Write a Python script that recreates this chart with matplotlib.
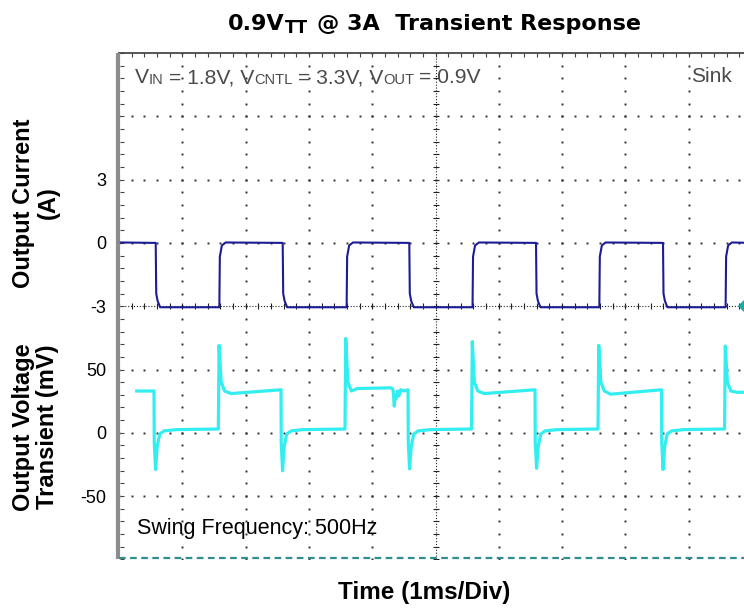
import numpy as np
import matplotlib
matplotlib.use("Agg")
import matplotlib.pyplot as plt

plt.rcParams['font.family'] = ['Liberation Sans', 'DejaVu Sans']
plt.rcParams['axes.unicode_minus'] = False

# ---- data read from the scope shot (time in ms, 1 ms/div) ----
cur_start = (0.03, 0.02)
cur_fall = [0.580, 2.586, 4.586, 6.588, 8.594]
cur_rise = [1.585, 3.596, 5.585, 7.588, 9.583]
cur_high = 0.0
cur_low = -3.05
cur_fall_shape = [(0.0, 0.0), (0.008, -2.4), (0.03, -2.75), (0.07, -3.05)]
cur_rise_shape = [(0.0, -3.05), (0.008, -0.65), (0.04, -0.12), (0.1, 0.02)]

volt_start = (0.28, 33.0)
volt_fall = [0.553, 2.559, 4.566, 6.572, 8.570]
volt_min = [-29, -30, -28.5, -28, -29]
volt_rise = [1.569, 3.570, 5.569, 7.567, 9.566]
volt_peak = [69, 74.5, 72, 69, 68.5]
volt_high = [(31, 34), (35, 34), (31, 34), (30.5, 34), (32, 32)]
volt_low = (2.5, 3.0)
volt_down_shape = [(0.004, -8), (0.025, None), (0.05, -11), (0.09, -1), (0.16, 1.5), (0.35, 2.5)]
volt_up_shape = [(0.012, None), (0.045, 40), (0.1, 33)]
volt_dip = [(4.30, 35.5), (4.33, 34), (4.349, 21), (4.365, 30), (4.38, 27),
            (4.40, 33), (4.42, 29), (4.45, 34), (4.50, 33)]

I_TICKS = [-3, 0, 3]
V_TICKS = [-50, 0, 50]

W, H = 744, 609
LEFT, TOP, DIV = 119, 53, 63.3


def fx(px):
    return px / W


def fy(py):
    return 1 - py / H


fig = plt.figure(figsize=(W / 100, H / 100), dpi=100)
rect = [fx(LEFT), fy(TOP + 8 * DIV), 10 * DIV / W, 8 * DIV / H]

# scope graticule in division units
g = fig.add_axes(rect)
g.set_xlim(0, 10)
g.set_ylim(0, 8)
g.axis('off')
sub = np.arange(0, 10.01, 0.2)
subv = np.arange(0, 8.01, 0.2)
for xv in range(1, 10):
    if xv == 5:
        continue
    g.plot(np.full_like(subv, xv), subv, ls='none', marker='s', ms=1.4, mew=0, color='#303030')
for yv in range(1, 8):
    if yv == 4:
        continue
    g.plot(sub, np.full_like(sub, yv), ls='none', marker='s', ms=1.4, mew=0, color='#303030')
# centre lines with crossbars
g.plot([5, 5], [0, 8], ls=(0, (1, 1.6)), lw=0.8, color='#222222')
g.plot(np.full_like(subv, 5), subv, ls='none', marker='_', ms=4, mew=0.8, color='#222222')
g.plot([0, 10], [4, 4], ls=(0, (1, 1.6)), lw=0.8, color='#222222')
g.plot(sub, np.full_like(sub, 4), ls='none', marker='|', ms=4, mew=0.8, color='#222222')
# frame
g.plot([0, 10], [8, 8], lw=1.4, color='#555555', clip_on=False)
g.plot(sub, np.full_like(sub, 7.97), ls='none', marker='|', ms=3, mew=0.8, color='#444444', clip_on=False)
g.plot([-0.02, -0.02], [0, 8], lw=3, color='#8c8c8c', clip_on=False, solid_capstyle='butt')
g.plot(np.full_like(subv, 0.04), subv, ls='none', marker='_', ms=3, mew=0.8, color='#444444')
g.plot([0, 10], [0.02, 0.02], lw=1.6, color='#2f8f8f', dashes=(3, 2), clip_on=False)
g.plot([9.9], [4], marker='D', ms=8, color='#1aa8a0', mew=0, clip_on=False)

# current trace
ct, ci = [cur_start[0]], [cur_start[1]]
for k in range(len(cur_fall)):
    for dt, a in cur_fall_shape:
        ct.append(cur_fall[k] + dt)
        ci.append(a)
    ct.append(cur_rise[k])
    ci.append(cur_low)
    for dt, a in cur_rise_shape:
        ct.append(cur_rise[k] + dt)
        ci.append(a)
    ct.append(cur_fall[k + 1] if k + 1 < len(cur_fall) else 10.0)
    ci.append(cur_high)

# voltage trace
vt, vv = [volt_start[0]], [volt_start[1]]
hi_end = volt_start[1]
for k in range(len(volt_fall)):
    vt.append(volt_fall[k])
    vv.append(hi_end)
    for dt, m in volt_down_shape:
        vt.append(volt_fall[k] + dt)
        vv.append(volt_min[k] if m is None else m)
    vt.append(volt_rise[k])
    vv.append(volt_low[1])
    for dt, m in volt_up_shape:
        vt.append(volt_rise[k] + dt)
        vv.append(volt_peak[k] if m is None else m)
    hs, he = volt_high[k]
    vt.append(volt_rise[k] + 0.2)
    vv.append(hs)
    if k == 1:
        for t, m in volt_dip:
            vt.append(t)
            vv.append(m)
    hi_end = he
vt.append(10.0)
vv.append(volt_high[-1][1])

ca = fig.add_axes(rect, facecolor='none')
ca.plot(ct, ci, color='#1c1c96', lw=1.5)
ca.set_xlim(0, 10)
ca.set_ylim(-15, 9)
ca.set_yticks(I_TICKS)

va = fig.add_axes(rect, facecolor='none')
va.plot(vt, vv, color='#33eef0', lw=2.3)
va.set_xlim(0, 10)
va.set_ylim(-100, 300)
va.set_yticks(V_TICKS)

for ax in (ca, va):
    ax.set_xticks([])
    for s in ax.spines.values():
        s.set_visible(False)
    ax.tick_params(axis='y', length=0, pad=9, labelsize=13)

renderer = fig.canvas.get_renderer()


def run(x_px, base_px, pieces, color='black', weight='normal', family=None):
    x = x_px
    for s, size, dy, gap in pieces:
        t = fig.text(fx(x), fy(base_px + dy), s, fontsize=size, fontweight=weight,
                     color=color, ha='left', va='baseline', family=family)
        x += t.get_window_extent(renderer).width + gap


run(228, 30, [("0.9V", 16, 0, 0), ("TT", 12, 3, 9), ("@ 3A  Transient Response", 16, 0, 0)],
    weight='bold', family=['DejaVu Sans'])
run(135, 83, [("V", 15.2, 0, 0), ("IN", 10.5, 1.5, 5), ("= 1.8V, V", 15.2, 0, 0), ("CNTL", 10.5, 1.5, 5),
              ("= 3.3V, V", 15.2, 0, 0), ("OUT", 10.5, 1.5, 5), ("= 0.9V", 15.2, 0, 0)], color='#4a4a4a')
fig.text(fx(691), fy(82), "Sink", fontsize=15, color='#4a4a4a', ha='left', va='baseline')
fig.text(fx(137), fy(534), "Swing Frequency: 500Hz", fontsize=15.5, ha='left', va='baseline')

fig.text(fx(424), fy(592), "Time (1ms/Div)", fontsize=17.5, fontweight='bold', ha='center', va='center')
fig.text(fx(24), fy(203), "Output Current", fontsize=17, fontweight='bold', rotation=90,
         ha='center', va='center')
fig.text(fx(48), fy(203), "(A)", fontsize=17, fontweight='bold', rotation=90,
         ha='center', va='center')
fig.text(fx(24), fy(427), "Output Voltage", fontsize=17, fontweight='bold', rotation=90,
         ha='center', va='center')
fig.text(fx(48), fy(427), "Transient (mV)", fontsize=17, fontweight='bold', rotation=90,
         ha='center', va='center')

fig.savefig("out.png", dpi=100)
